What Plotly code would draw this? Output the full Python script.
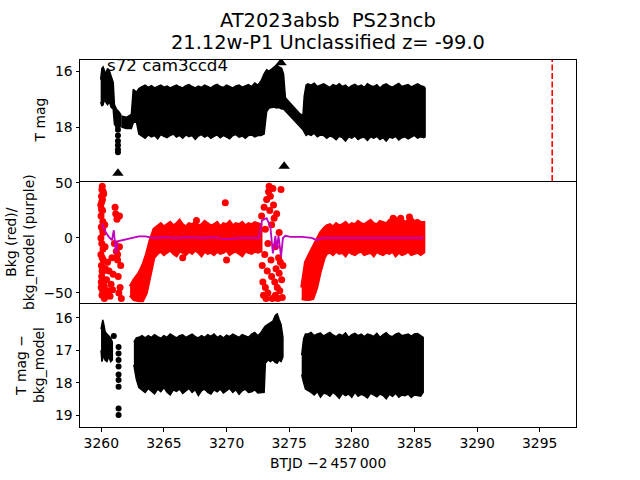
import plotly.graph_objects as go

# ---------------- data ----------------
X_RANGE = [3258.3, 3297.9]
VLINE_T = 3296.0

# Panel 1: T mag, dense light-curve envelope (time, bright edge, faint edge)
P1S_T = [3259.95, 3260.05, 3260.15, 3260.25, 3260.35, 3260.5, 3260.65, 3260.8, 3260.95, 3261.05, 3261.2, 3261.4, 3261.55]
P1S_TOP = [16.3, 15.9, 15.85, 15.95, 16.1, 15.9, 16.0, 16.2, 16.4, 17.2, 17.35, 17.45, 17.55]
P1S_BOT = [17.1, 17.25, 17.2, 17.0, 17.1, 17.2, 17.1, 17.3, 17.35, 17.9, 18.0, 18.0, 17.95]

P1_T = [3261.6, 3262.0, 3262.4, 3262.55, 3262.8,
        3263.0, 3263.25, 3263.5, 3263.75, 3264.0, 3264.25, 3264.5, 3264.75, 3265.0, 3265.25,
        3265.5, 3265.75, 3266.0, 3266.25, 3266.5, 3266.75, 3267.0, 3267.25, 3267.5, 3267.75,
        3268.0, 3268.25, 3268.5, 3268.75, 3269.0, 3269.25, 3269.5, 3269.75, 3270.0, 3270.25,
        3270.5, 3270.75, 3271.0, 3271.25, 3271.5, 3271.75, 3272.0, 3272.25, 3272.5, 3272.75,
        3273.0, 3273.2, 3273.4, 3273.6, 3273.8, 3274.0, 3274.2, 3274.4, 3274.55, 3274.7,
        3275.0, 3275.4, 3275.8, 3276.1, 3276.2, 3276.35,
        3276.5, 3276.75, 3277.0, 3277.25, 3277.5, 3277.75, 3278.0, 3278.25, 3278.5, 3278.75,
        3279.0, 3279.25, 3279.5, 3279.75, 3280.0, 3280.25, 3280.5, 3280.75, 3281.0, 3281.25,
        3281.5, 3281.75, 3282.0, 3282.25, 3282.5, 3282.75, 3283.0, 3283.25, 3283.5, 3283.75,
        3284.0, 3284.25, 3284.5, 3284.75, 3285.0, 3285.25, 3285.5, 3285.75, 3285.85]
P1_TOP = [17.6, 17.65, 17.55, 16.65, 16.75,
          16.62, 16.55, 16.5, 16.58, 16.52, 16.6, 16.55, 16.5, 16.57, 16.53,
          16.6, 16.55, 16.5, 16.56, 16.6, 16.52, 16.48, 16.55, 16.6, 16.53,
          16.58, 16.5, 16.55, 16.6, 16.52, 16.47, 16.55, 16.58, 16.5, 16.56,
          16.6, 16.53, 16.5, 16.57, 16.52, 16.48, 16.55, 16.42, 16.5, 16.35,
          16.1, 15.95, 16.0, 15.93, 15.88, 15.78, 15.85, 15.9, 16.1, 16.95,
          17.1, 17.3, 17.5, 17.6, 16.9, 16.5,
          16.45, 16.5, 16.43, 16.55, 16.5, 16.45, 16.52, 16.58, 16.48, 16.53,
          16.45, 16.55, 16.5, 16.6, 16.52, 16.47, 16.55, 16.5, 16.58, 16.45,
          16.52, 16.55, 16.48, 16.6, 16.5, 16.45, 16.53, 16.57, 16.5, 16.44,
          16.55, 16.52, 16.48, 16.56, 16.5, 16.45, 16.52, 16.55, 16.6]
P1_BOT = [18.0, 18.05, 18.05, 17.85, 17.8,
          18.25, 18.32, 18.4, 18.28, 18.35, 18.3, 18.42, 18.27, 18.33, 18.38,
          18.3, 18.25, 18.36, 18.3, 18.4, 18.28, 18.34, 18.3, 18.44, 18.32,
          18.27, 18.36, 18.3, 18.4, 18.33, 18.28, 18.38, 18.3, 18.35, 18.42,
          18.3, 18.27, 18.36, 18.32, 18.4, 18.3, 18.28, 18.35, 18.3, 18.3,
          18.25, 17.45, 17.32, 17.3, 17.28, 17.32, 17.3, 17.35, 17.35, 17.4,
          17.55, 17.75, 17.95, 18.1, 18.2, 18.3,
          18.25, 18.3, 18.22, 18.35, 18.28, 18.3, 18.4, 18.32, 18.36, 18.45,
          18.33, 18.38, 18.5, 18.35, 18.4, 18.32, 18.45, 18.38, 18.36, 18.48,
          18.35, 18.4, 18.33, 18.45, 18.38, 18.5, 18.36, 18.4, 18.33, 18.46,
          18.38, 18.35, 18.42, 18.36, 18.3, 18.4, 18.35, 18.38, 18.35]

P1_COL_T = [3261.33, 3261.33, 3261.33, 3261.33, 3261.33, 3261.33, 3261.33, 3261.33]
P1_COL_MAG = [17.75, 17.95, 18.1, 18.3, 18.5, 18.65, 18.8, 18.9]
P1_COL_ERR = [0.08, 0.08, 0.08, 0.08, 0.08, 0.08, 0.08, 0.08]

P1_LIM_T = [3261.33, 3274.6, 3274.35]
P1_LIM_MAG = [19.65, 19.4, 15.7]

# Panel 2: background (red) and background model (purple)
P2A_T = [3262.3, 3262.6, 3263.0, 3263.3, 3263.6, 3263.9, 3264.2,
         3264.5, 3264.75, 3265.0, 3265.25, 3265.5, 3265.75, 3266.0, 3266.25, 3266.5, 3266.75,
         3267.0, 3267.25, 3267.5, 3267.75, 3268.0, 3268.25, 3268.5, 3268.75, 3269.0, 3269.25,
         3269.5, 3269.75, 3270.0, 3270.25, 3270.5, 3270.75, 3271.0, 3271.25, 3271.5, 3271.75,
         3272.0, 3272.25, 3272.5, 3272.75]
P2A_TOP = [-44, -38, -32, -25, -15, -2, 8,
           11, 13, 10, 12, 14, 11, 13, 16, 12, 10,
           13, 12, 14, 11, 12, 15, 13, 11, 12, 14,
           10, 13, 12, 15, 11, 13, 12, 14, 11, 13,
           12, 14, 13, 12]
P2A_BOT = [-52, -56, -57, -57, -50, -35, -18,
           -14, -12, -15, -13, -11, -14, -16, -12, -13, -15,
           -12, -14, -11, -13, -16, -12, -14, -13, -15, -12,
           -14, -13, -11, -15, -13, -12, -14, -16, -12, -13,
           -14, -12, -13, -12]

P2B_T = [3276.0, 3276.3, 3276.6, 3276.9, 3277.2, 3277.5, 3277.8, 3278.0,
         3278.25, 3278.5, 3278.75, 3279.0, 3279.25, 3279.5, 3279.75, 3280.0, 3280.25, 3280.5,
         3280.75, 3281.0, 3281.25, 3281.5, 3281.75, 3282.0, 3282.25, 3282.5, 3282.75, 3283.0,
         3283.25, 3283.5, 3283.75, 3284.0, 3284.25, 3284.5, 3284.75, 3285.0, 3285.25, 3285.5,
         3285.75]
P2B_TOP = [-45, -22, -15, -8, -2, 5, 9, 11,
           12, 10, 13, 11, 12, 14, 11, 13, 12, 15,
           13, 12, 14, 16, 13, 12, 15, 14, 13, 16,
           14, 18, 15, 17, 14, 16, 18, 15, 16, 14,
           14]
P2B_BOT = [-55, -56, -56, -55, -45, -30, -18, -14,
           -13, -15, -12, -14, -13, -16, -12, -14, -15, -13,
           -12, -15, -14, -13, -16, -12, -14, -15, -13, -14,
           -12, -16, -13, -15, -14, -12, -15, -14, -13, -15,
           -13]

S1_T = [3259.96, 3259.98, 3260.0, 3260.02, 3260.04, 3259.97, 3260.01, 3260.05, 3260.08, 3260.03,
        3259.99, 3260.06, 3260.1, 3260.12, 3260.09, 3260.14, 3260.16, 3260.13, 3260.18, 3260.2,
        3260.22, 3260.25, 3260.19, 3260.28, 3260.3, 3260.33, 3260.36, 3260.42, 3260.5, 3260.56,
        3260.62, 3260.7, 3260.78, 3260.85, 3260.9, 3260.95, 3261.05, 3261.1, 3261.15, 3261.2,
        3261.25, 3261.3, 3261.35, 3261.4, 3261.45, 3261.5, 3261.55, 3261.6, 3261.3, 3261.45,
        3259.97, 3260.0, 3260.04, 3260.07, 3260.11, 3260.02, 3260.06, 3260.15, 3260.24, 3260.1]
S1_V = [30, 20, 10, 38, -5, -15, -25, 44, 47, -35,
        -45, -52, 25, 15, 35, -10, -20, 5, -30, -40,
        -48, -55, 40, 12, -8, -28, -50, -38, -22, -48,
        -30, -53, -42, -18, -47, -33, -5, 28, 22, -12,
        17, -20, -35, -50, -8, -45, -25, -55, -15, 20,
        0, -40, 33, -18, -48, 26, -30, 42, -44, 8]

S3_T = [3272.8, 3272.85, 3272.9, 3272.95, 3273.0, 3273.05, 3273.1, 3273.15, 3273.2, 3273.25,
        3273.3, 3273.35, 3273.4, 3273.45, 3273.5, 3273.55, 3273.6, 3273.65, 3273.7, 3273.75,
        3273.8, 3273.85, 3273.9, 3273.95, 3274.0, 3274.05, 3274.1, 3274.15, 3274.2, 3274.25,
        3274.3, 3274.35, 3274.4, 3274.45, 3274.5, 3273.1, 3273.3, 3273.6, 3273.9, 3274.2]
S3_V = [20, -25, -40, -52, 28, -15, -45, -55, 35, -30,
        -50, 42, 47, 25, 38, -20, -35, -55, 45, 30,
        18, -40, -52, -28, 22, -45, -55, -18, -32, -48,
        -22, 44, -38, -54, -25, 8, -5, 12, -8, 5]

OUT_T = [3269.9, 3270.0, 3267.6, 3283.3, 3283.9, 3284.6, 3266.5]
OUT_V = [32, -20, 16, 18, 18, 19, -18]

MODEL_T = [3260.05, 3260.3, 3260.6, 3260.85, 3261.0, 3261.17, 3261.3, 3261.65, 3262.5, 3263.0,
           3263.5, 3264.2, 3265.0, 3266.0, 3267.0, 3268.0, 3269.0, 3270.0, 3271.0, 3272.0,
           3272.6, 3272.83, 3273.2, 3273.5, 3273.7, 3273.9, 3274.0, 3274.15, 3274.35, 3274.5,
           3274.7, 3275.1, 3276.0, 3276.8, 3277.2, 3277.6, 3278.5, 3280.0, 3282.0, 3284.0, 3285.7]
MODEL_V = [13, 6, 1, -2, 7, -14, -3, -2, 0, 1.5,
           1.5, 0, 0.5, 0, 0.5, 0, 0.5, -1, 0, 0,
           0, 16, 18, 10, -14, 2, -10, 2, -17, 0,
           2, 1, 1, 0, -2, 0, 0, 0, 0, 0.5, 0]

# Panel 3: T mag - bkg_model
P3S_T = [3259.98, 3260.05, 3260.12, 3260.2, 3260.3, 3260.45, 3260.6, 3260.75, 3260.88]
P3S_TOP = [16.35, 16.15, 16.06, 16.2, 16.42, 16.5, 16.55, 16.62, 16.75]
P3S_BOT = [17.0, 17.35, 17.3, 17.15, 17.3, 17.35, 17.2, 17.35, 17.3]

P3A_T = [3262.6, 3262.8,
         3263.0, 3263.25, 3263.5, 3263.75, 3264.0, 3264.25, 3264.5, 3264.75, 3265.0, 3265.25,
         3265.5, 3265.75, 3266.0, 3266.25, 3266.5, 3266.75, 3267.0, 3267.25, 3267.5, 3267.75,
         3268.0, 3268.25, 3268.5, 3268.75, 3269.0, 3269.25, 3269.5, 3269.75, 3270.0, 3270.25,
         3270.5, 3270.75, 3271.0, 3271.25, 3271.5, 3271.75, 3272.0, 3272.25, 3272.5, 3272.75,
         3273.0, 3273.1, 3273.3, 3273.5, 3273.7, 3273.9, 3274.05, 3274.2, 3274.35, 3274.5]
P3A_TOP = [16.75, 16.62,
           16.6, 16.55, 16.62, 16.55, 16.6, 16.52, 16.58, 16.63, 16.55, 16.6,
           16.5, 16.57, 16.62, 16.55, 16.52, 16.6, 16.56, 16.5, 16.58, 16.62,
           16.55, 16.6, 16.52, 16.57, 16.5, 16.6, 16.55, 16.62, 16.53, 16.58,
           16.5, 16.56, 16.6, 16.52, 16.55, 16.6, 16.5, 16.45, 16.55, 16.45,
           16.3, 16.25, 16.2, 16.15, 16.1, 15.92, 15.88, 16.05, 16.2, 16.6]
P3A_BOT = [17.45, 17.9,
           18.15, 18.22, 18.3, 18.18, 18.25, 18.35, 18.2, 18.28, 18.15, 18.3,
           18.38, 18.22, 18.27, 18.2, 18.33, 18.25, 18.18, 18.3, 18.22, 18.4,
           18.25, 18.2, 18.3, 18.35, 18.22, 18.28, 18.2, 18.32, 18.25, 18.18,
           18.3, 18.22, 18.36, 18.25, 18.2, 18.3, 18.28, 18.22, 18.32, 18.3,
           18.3, 17.4, 17.3, 17.35, 17.3, 17.38, 17.4, 17.3, 17.35, 17.2]

P3B_T = [3276.0, 3276.15, 3276.3,
         3276.5, 3276.75, 3277.0, 3277.25, 3277.5, 3277.75, 3278.0, 3278.25, 3278.5, 3278.75,
         3279.0, 3279.25, 3279.5, 3279.75, 3280.0, 3280.25, 3280.5, 3280.75, 3281.0, 3281.25,
         3281.5, 3281.75, 3282.0, 3282.25, 3282.5, 3282.75, 3283.0, 3283.25, 3283.5, 3283.75,
         3284.0, 3284.25, 3284.5, 3284.75, 3285.0, 3285.25, 3285.5, 3285.7]
P3B_TOP = [17.15, 16.65, 16.5,
           16.5, 16.45, 16.55, 16.5, 16.47, 16.56, 16.5, 16.45, 16.53, 16.58,
           16.5, 16.55, 16.46, 16.6, 16.52, 16.48, 16.55, 16.5, 16.58, 16.5,
           16.53, 16.57, 16.48, 16.6, 16.52, 16.46, 16.55, 16.58, 16.5, 16.47,
           16.55, 16.52, 16.5, 16.56, 16.5, 16.48, 16.55, 16.6]
P3B_BOT = [17.75, 18.0, 18.2,
           18.25, 18.3, 18.38, 18.28, 18.45, 18.32, 18.35, 18.42, 18.3, 18.38,
           18.48, 18.33, 18.4, 18.35, 18.45, 18.3, 18.42, 18.36, 18.4, 18.47,
           18.33, 18.38, 18.44, 18.35, 18.4, 18.5, 18.36, 18.42, 18.33, 18.45,
           18.38, 18.4, 18.35, 18.46, 18.38, 18.4, 18.42, 18.3]

P3_COL_T = [3261.0, 3261.38, 3261.38, 3261.38, 3261.38, 3261.38, 3261.38, 3261.38, 3261.38, 3261.38]
P3_COL_MAG = [16.56, 16.9, 17.1, 17.3, 17.5, 17.75, 17.92, 18.13, 18.8, 19.0]
P3_COL_ERR = [0.07, 0.07, 0.07, 0.07, 0.07, 0.07, 0.07, 0.07, 0.07, 0.07]

TITLE_1 = "AT2023absb\u00a0\u00a0PS23ncb"
TITLE_2 = "21.12w-P1 Unclassified z= -99.0"
CORNER_TEXT = "s72 cam3ccd4"
XLABEL = "BTJD \u22122\u2009457\u2009000"

# ---------------- figure ----------------
FONT = "DejaVu Sans"
BLACK, RED, PURPLE = "#000000", "#ff0000", "#bf00bf"

fig = go.Figure()


def band(t, top, bot, color, xa, ya, lw=1.5):
    return go.Scatter(x=list(t) + list(t)[::-1], y=list(top) + list(bot)[::-1],
                      fill="toself", fillcolor=color, mode="lines",
                      line=dict(color=color, width=lw), xaxis=xa, yaxis=ya,
                      hoverinfo="skip", showlegend=False)


# panel 1
fig.add_trace(band(P1S_T, P1S_TOP, P1S_BOT, BLACK, "x", "y"))
fig.add_trace(band(P1_T, P1_TOP, P1_BOT, BLACK, "x", "y"))
fig.add_trace(go.Scatter(x=P1_COL_T, y=P1_COL_MAG, mode="markers", xaxis="x", yaxis="y",
                         marker=dict(color=BLACK, size=6),
                         error_y=dict(type="data", array=P1_COL_ERR, color=BLACK, thickness=1.5, width=0),
                         showlegend=False))
fig.add_trace(go.Scatter(x=P1_LIM_T, y=P1_LIM_MAG, mode="markers", xaxis="x", yaxis="y",
                         marker=dict(color=BLACK, size=10, symbol="triangle-up"), showlegend=False))

# panel 2
fig.add_trace(band(P2A_T, P2A_TOP, P2A_BOT, RED, "x2", "y2", lw=3))
fig.add_trace(band(P2B_T, P2B_TOP, P2B_BOT, RED, "x2", "y2", lw=3))
for tt, vv in ((S1_T, S1_V), (S3_T, S3_V), (OUT_T, OUT_V)):
    fig.add_trace(go.Scatter(x=tt, y=vv, mode="markers", xaxis="x2", yaxis="y2",
                             marker=dict(color=RED, size=7), showlegend=False))
fig.add_trace(go.Scatter(x=MODEL_T, y=MODEL_V, mode="lines", xaxis="x2", yaxis="y2",
                         line=dict(color=PURPLE, width=1.8), showlegend=False))

# panel 3
fig.add_trace(band(P3S_T, P3S_TOP, P3S_BOT, BLACK, "x3", "y3"))
fig.add_trace(band(P3A_T, P3A_TOP, P3A_BOT, BLACK, "x3", "y3"))
fig.add_trace(band(P3B_T, P3B_TOP, P3B_BOT, BLACK, "x3", "y3"))
fig.add_trace(go.Scatter(x=P3_COL_T, y=P3_COL_MAG, mode="markers", xaxis="x3", yaxis="y3",
                         marker=dict(color=BLACK, size=6),
                         error_y=dict(type="data", array=P3_COL_ERR, color=BLACK, thickness=1.5, width=0),
                         showlegend=False))

axis_common = dict(showline=True, linecolor=BLACK, linewidth=1, mirror=True,
                   showgrid=False, zeroline=False, ticks="outside", ticklen=3.5,
                   tickwidth=0.8, tickcolor=BLACK,
                   tickfont=dict(family=FONT, size=13.9, color=BLACK))

D1, D2 = 0.6703, 0.3379
fig.update_layout(
    width=640, height=480,
    margin=dict(l=80, r=64, t=60, b=53),
    paper_bgcolor="white", plot_bgcolor="white",
    font=dict(family=FONT, color=BLACK),
    xaxis=dict(axis_common, range=X_RANGE, anchor="y", showticklabels=False, ticks=""),
    xaxis2=dict(axis_common, range=X_RANGE, anchor="y2", showticklabels=False, ticks="", mirror=False),
    xaxis3=dict(axis_common, range=X_RANGE, anchor="y3", mirror=False,
                tickvals=[3260, 3265, 3270, 3275, 3280, 3285, 3290, 3295]),
    yaxis=dict(axis_common, domain=[D1, 1], range=[19.93, 15.6], tickvals=[16, 18]),
    yaxis2=dict(axis_common, domain=[D2, D1], range=[-59.1, 51.8],
                tickvals=[-50, 0, 50], ticktext=["\u221250", "0", "50"]),
    yaxis3=dict(axis_common, domain=[0, D2], range=[19.37, 15.54], tickvals=[16, 17, 18, 19]),
    shapes=[dict(type="line", xref="x", yref="y domain", x0=VLINE_T, x1=VLINE_T, y0=0, y1=1,
                 line=dict(color=RED, width=1.6, dash="6px,2.5px"))],
    annotations=[
        dict(text=TITLE_1, xref="paper", yref="paper", x=0.5, y=1, yshift=40,
             xanchor="center", yanchor="middle", showarrow=False,
             font=dict(family=FONT, size=19.4, color=BLACK)),
        dict(text=TITLE_2, xref="paper", yref="paper", x=0.5, y=1, yshift=18,
             xanchor="center", yanchor="middle", showarrow=False,
             font=dict(family=FONT, size=19.4, color=BLACK)),
        dict(text=CORNER_TEXT, xref="paper", yref="y domain", x=25 / 496, y=0.96,
             xanchor="left", yanchor="middle", showarrow=False,
             font=dict(family=FONT, size=16.7, color=BLACK)),
        dict(text="T mag", xref="paper", yref="y domain", x=0, xshift=-40, y=0.5,
             xanchor="center", yanchor="middle", textangle=-90, showarrow=False,
             font=dict(family=FONT, size=13.9, color=BLACK)),
        dict(text="Bkg (red)/<br>bkg_model (purple)", xref="paper", yref="y2 domain", x=0, xshift=-60, y=0.5,
             xanchor="center", yanchor="middle", textangle=-90, showarrow=False,
             font=dict(family=FONT, size=13.9, color=BLACK)),
        dict(text="T mag \u2212<br>bkg_model", xref="paper", yref="y3 domain", x=0, xshift=-50, y=0.5,
             xanchor="center", yanchor="middle", textangle=-90, showarrow=False,
             font=dict(family=FONT, size=13.9, color=BLACK)),
        dict(text=XLABEL, xref="paper", yref="paper", x=0.5, y=0, yshift=-36,
             xanchor="center", yanchor="middle", showarrow=False,
             font=dict(family=FONT, size=13.9, color=BLACK)),
    ],
)

fig.write_html("out.html")
